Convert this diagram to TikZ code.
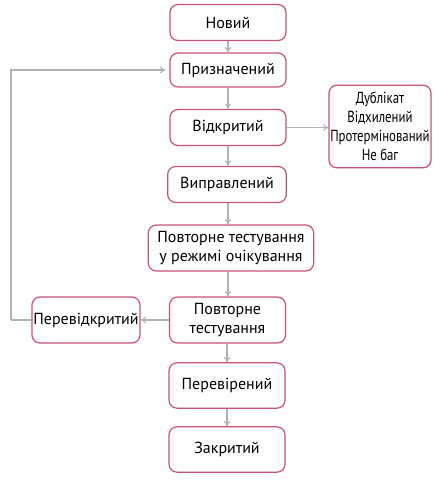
\documentclass[tikz,border=0pt]{standalone}
\usepackage{fontspec}
\setmainfont{PT Sans}
\newfontfamily\narrowfont[FakeStretch=0.8]{PT Sans}
\usepackage{xcolor}
\usetikzlibrary{arrows.meta,positioning}
\definecolor{boxrim}{RGB}{196,82,128}
\definecolor{linkgray}{RGB}{178,178,178}

\begin{document}
\begin{tikzpicture}[
    x=0.75pt, y=-0.75pt,
    state/.style={rectangle, draw=boxrim, line width=0.9pt, rounded corners=6pt,
                  minimum width=87pt, minimum height=27pt, inner sep=1pt,
                  align=center, font=\fontsize{12}{14.5}\selectfont},
    flow/.style={-{To[length=4pt,width=5pt]}, linkgray, line width=0.8pt},
    back/.style={linkgray, line width=0.8pt}
]
\useasboundingbox (0,0) rectangle (441,480);

% main path of the bug
\node[state] (new) at (228,22.5) {Новий};
\node[state, minimum height=25.5pt] (assigned) at (228,70) {Призначений};
\node[state] (open) at (228,127.5) {Відкритий};
\node[state, minimum width=89pt] (fixed) at (227,184.5) {Виправлений};
\node[state, minimum width=124pt, minimum height=34.5pt] (pending) at (231,248)
    {Повторне тестування\\у режимі очікування};
\node[state, minimum height=34.5pt] (retest) at (227.5,320) {Повторне\\тестування};
\node[state, minimum height=34pt] (verified) at (227,385.5) {Перевірений};
\node[state, minimum height=34pt] (closed) at (227,449.5) {Закритий};

% side branches
\node[state, minimum width=76pt, minimum height=62pt,
      font=\narrowfont\fontsize{12}{14.25}\selectfont] (rejected) at (380,126.5)
    {Дублікат\\Відхилений\\Протермінований\\Не баг};
\node[state, minimum width=81pt, minimum height=34.5pt] (reopened) at (86,320) {Перевідкритий};

% transitions
\draw[flow] (new.south -| 228,0) -- (assigned.north -| 228,0);
\draw[flow] (assigned.south -| 228,0) -- (open.north -| 228,0);
\draw[flow] (open.south -| 228,0) -- (fixed.north -| 228,0);
\draw[flow] (fixed.south -| 228,0) -- (pending.north -| 228,0);
\draw[flow] (pending.south -| 228,0) -- (retest.north -| 228,0);
\draw[flow] (retest.south -| 227,0) -- (verified.north -| 227,0);
\draw[flow] (verified.south -| 227,0) -- (closed.north -| 227,0);
\draw[flow] (open.east) -- (rejected.west |- open.east);
\draw[flow] (retest.west) -- (reopened.east);

% loop back to assigned
\coordinate (loop) at (11,320);
\draw[back] (reopened.west) -- (loop);
\draw[flow] (loop) |- ([xshift=-3pt]assigned.west);

\end{tikzpicture}
\end{document}
